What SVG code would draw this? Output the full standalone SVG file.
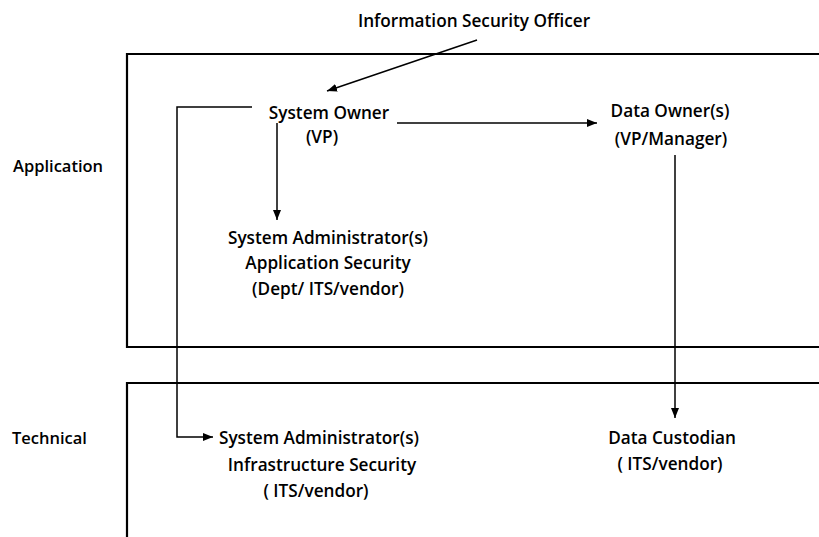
<svg xmlns="http://www.w3.org/2000/svg" width="819" height="537" viewBox="0 0 819 537">
<style>
  text { font-family: "Open Sans", "Liberation Sans", sans-serif; font-weight: 600; font-size: 17.2px; fill: #000; dominant-baseline: central; text-anchor: middle; }
  text.lbl { text-anchor: start; font-size: 16.5px; }
  .box { fill: none; stroke: #000; stroke-width: 2.2; }
  .conn { fill: none; stroke: #000; stroke-width: 1.5; }
</style>
<defs>
  <marker id="arr" markerUnits="userSpaceOnUse" markerWidth="10" markerHeight="10" viewBox="0 0 10 10" refX="10" refY="5" orient="auto">
    <path d="M0,1 L10,5 L0,9 Z" fill="#000"/>
  </marker>
</defs>
<rect width="819" height="537" fill="#fff"/>

<g id="application-layer">
  <path class="box" d="M819,54 H127 V347 H819"/>
  <text class="lbl" x="13" y="165">Application</text>
</g>
<g id="technical-layer">
  <path class="box" d="M819,383 H127 V537"/>
  <text class="lbl" x="12" y="437">Technical</text>
</g>

<g id="connectors">
  <path class="conn" d="M477,40 L327,91" marker-end="url(#arr)"/>
  <path class="conn" d="M252,107 H177 V437 H213" marker-end="url(#arr)"/>
  <path class="conn" d="M277,123 V220" marker-end="url(#arr)"/>
  <path class="conn" d="M397,123 H597" marker-end="url(#arr)"/>
  <path class="conn" d="M675,155 V418" marker-end="url(#arr)"/>
</g>

<g id="iso">
  <text x="474" y="20">Information Security Officer</text>
</g>
<g id="system-owner">
  <text x="329" y="112">System Owner</text>
  <text x="322" y="136">(VP)</text>
</g>
<g id="data-owner">
  <text x="670" y="110">Data Owner(s)</text>
  <text x="671" y="138">(VP/Manager)</text>
</g>
<g id="sysadmin-app">
  <text x="328" y="237">System Administrator(s)</text>
  <text x="328" y="262">Application Security</text>
  <text x="328" y="288">(Dept/ ITS/vendor)</text>
</g>
<g id="sysadmin-infra">
  <text x="319" y="437">System Administrator(s)</text>
  <text x="322" y="464">Infrastructure Security</text>
  <text x="316" y="490">( ITS/vendor)</text>
</g>
<g id="data-custodian">
  <text x="672" y="437">Data Custodian</text>
  <text x="670" y="463">( ITS/vendor)</text>
</g>
</svg>
